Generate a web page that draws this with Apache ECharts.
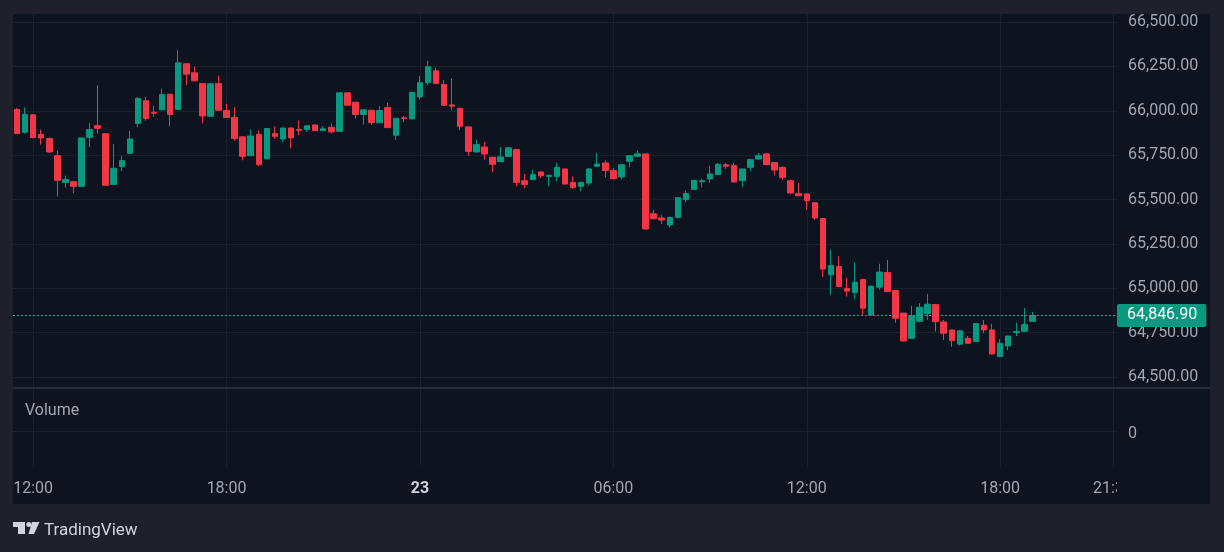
<!DOCTYPE html>
<html lang="en">
<head>
  <meta charset="UTF-8">
  <title>BTC 15m</title>
  <script src="https://cdn.jsdelivr.net/npm/echarts@6.0.0/dist/echarts.min.js"></script>
  <style>
    html, body {
      margin: 0;
      padding: 0;
      background: #1e212b;
    }

    #main {
      width: 1224px;
      height: 552px;
    }
  </style>
</head>
<body>
  <div id="main"></div>

  <script type="text/javascript">
    // 15 minute candles, 22nd 11:30 -> 23rd 19:00
    var opens = [
      66007, 65879, 65977, 65866, 65843, 65747, 65596, 65600, 65574, 65850,
      65916, 65871, 65585, 65685, 65760, 65928, 66056, 65991, 66005, 66093,
      66007, 66265, 66214, 66153, 65969, 66153, 66001, 65963, 65853, 65747,
      65867, 65729, 65871, 65841, 65903, 65894, 65894, 65920, 65888, 65907,
      65884, 66101, 66048, 65979, 66003, 65932, 66018, 65862, 65960, 65954,
      66078, 66158, 66225, 66148, 66033, 66014, 65909, 65768, 65796, 65738,
      65713, 65743, 65781, 65606, 65612, 65655, 65630, 65630, 65672, 65596,
      65574, 65593, 65687, 65706, 65664, 65627, 65715, 65743, 65757, 65420,
      65396, 65356, 65399, 65499, 65557, 65600, 65616, 65640, 65696, 65692,
      65606, 65681, 65728, 65757, 65708, 65681, 65606, 65533, 65531, 65482,
      65393, 65076, 65122, 64998, 64976, 65049, 64850, 65006, 65089, 64987,
      64860, 64718, 64814, 64856, 64908, 64810, 64765, 64685, 64718, 64699,
      64792, 64765, 64615, 64675, 64750, 64758, 64814
    ];
    var closes = [
      65871, 65980, 65849, 65847, 65768, 65608, 65612, 65574, 65847, 65894,
      65901, 65580, 65676, 65719, 65841, 66069, 65956, 65986, 66091, 65979,
      66270, 66206, 66169, 65971, 66152, 66003, 65962, 65843, 65743, 65858,
      65696, 65900, 65856, 65903, 65847, 65890, 65915, 65888, 65898, 65881,
      66101, 66031, 65979, 66005, 65933, 66001, 65905, 65958, 65956, 66104,
      66158, 66248, 66153, 66031, 66026, 65912, 65771, 65809, 65757, 65698,
      65740, 65791, 65596, 65584, 65640, 65634, 65636, 65681, 65587, 65568,
      65596, 65672, 65700, 65663, 65617, 65696, 65747, 65757, 65334, 65392,
      65384, 65399, 65510, 65534, 65608, 65606, 65644, 65698, 65687, 65599,
      65672, 65725, 65747, 65696, 65666, 65625, 65537, 65521, 65493, 65396,
      65108, 65128, 65010, 64984, 65034, 64888, 65012, 65091, 64981, 64831,
      64703, 64844, 64893, 64910, 64812, 64747, 64705, 64760, 64690, 64801,
      64765, 64630, 64690, 64731, 64756, 64795, 64846.9
    ];
    var lows = [
      65871, 65871, 65845, 65809, 65762, 65517, 65568, 65537, 65572, 65796,
      65871, 65578, 65583, 65659, 65758, 65907, 65945, 65966, 66003, 65912,
      66004, 66144, 66166, 65928, 65967, 66000, 65959, 65832, 65721, 65745,
      65687, 65726, 65841, 65822, 65788, 65862, 65881, 65886, 65886, 65873,
      65882, 66029, 65958, 65922, 65920, 65930, 65903, 65836, 65935, 65952,
      66063, 66144, 66151, 66029, 66003, 65890, 65747, 65766, 65725, 65653,
      65711, 65740, 65574, 65563, 65610, 65621, 65574, 65602, 65585, 65559,
      65546, 65578, 65685, 65625, 65615, 65612, 65681, 65741, 65331, 65389,
      65362, 65343, 65392, 65484, 65555, 65568, 65593, 65638, 65672, 65596,
      65570, 65659, 65726, 65694, 65636, 65612, 65531, 65519, 65442, 65386,
      65063, 64963, 65007, 64953, 64939, 64848, 64848, 64991, 64979, 64806,
      64701, 64716, 64806, 64822, 64756, 64709, 64671, 64677, 64688, 64697,
      64747, 64627, 64612, 64652, 64731, 64755, 64812
    ];
    var highs = [
      66016, 66018, 65980, 65894, 65850, 65775, 65634, 65606, 65849, 65932,
      66142, 65873, 65813, 65747, 65888, 66078, 66078, 66029, 66124, 66095,
      66341, 66266, 66248, 66155, 66153, 66199, 66039, 66020, 65854, 65894,
      65890, 65902, 65912, 65905, 65905, 65945, 65916, 65922, 65915, 65928,
      66103, 66103, 66050, 66007, 66004, 66026, 66045, 65959, 65969, 66106,
      66195, 66282, 66242, 66174, 66182, 66016, 65911, 65837, 65826, 65739,
      65796, 65796, 65783, 65644, 65668, 65657, 65638, 65706, 65673, 65630,
      65598, 65677, 65762, 65721, 65678, 65698, 65749, 65775, 65759, 65442,
      65414, 65405, 65512, 65551, 65610, 65616, 65691, 65706, 65706, 65706,
      65673, 65726, 65762, 65762, 65709, 65687, 65612, 65593, 65533, 65484,
      65395, 65217, 65179, 65060, 65147, 65055, 65014, 65138, 65160, 64989,
      64861, 64901, 64916, 64968, 64910, 64822, 64767, 64762, 64731, 64803,
      64822, 64799, 64713, 64733, 64806, 64888, 64867
    ];

    // time axis: 15 min slots from 11:30, running past the last candle to 21:30
    var slotCount = 137;
    var tickIndex = [2, 26, 50, 74, 98, 122, 136];
    var tickText = ['12:00', '18:00', '23', '06:00', '12:00', '18:00', '21:30'];

    var priceTicks = { min: 64500, max: 66500, step: 250 };
    var lastPrice = closes[closes.length - 1];

    var upColor = '#089981';
    var downColor = '#f23645';
    var gridColor = '#1b202d';
    var textColor = '#a3a6af';
    var panelColor = '#0e1320';
    var font = 'Roboto, "Noto Sans", sans-serif';

    var slots = [];
    for (var s = 0; s < slotCount; s++) {
      var m = 11 * 60 + 30 + s * 15;
      var hh = Math.floor(m / 60) % 24;
      var mm = m % 60;
      slots.push((s >= 50 ? 'd23 ' : 'd22 ') + (hh < 10 ? '0' : '') + hh + ':' + (mm < 10 ? '0' : '') + mm);
    }

    var candles = opens.map(function(o, i) {
      return [o, closes[i], lows[i], highs[i]];
    });

    function fmtPrice(v) {
      return v.toLocaleString('en-US', { minimumFractionDigits: 2, maximumFractionDigits: 2 });
    }

    var chart = echarts.init(document.getElementById('main'));

    var option = {
      backgroundColor: '#1e212b',
      animation: false,
      textStyle: { fontFamily: font },
      grid: [
        // price pane
        { left: 13, right: 107, top: 22, height: 355 },
        // volume pane
        { left: 13, right: 107, top: 395, height: 72 },
        // full height, carries the time axis and the vertical lines
        { left: 13, right: 107, top: 14, bottom: 85 }
      ],
      xAxis: [
        { gridIndex: 0, type: 'category', data: slots, show: false },
        { gridIndex: 1, type: 'category', data: slots, show: false },
        {
          gridIndex: 2,
          type: 'category',
          data: slots,
          axisLine: { show: false },
          splitLine: { show: false },
          axisTick: {
            show: true,
            inside: true,
            alignWithLabel: true,
            length: 453,
            interval: function(idx) { return tickIndex.indexOf(idx) >= 0; },
            lineStyle: { color: gridColor, width: 1 }
          },
          axisLabel: {
            interval: function(idx) { return tickIndex.indexOf(idx) >= 0; },
            margin: 14,
            fontSize: 16,
            color: textColor,
            formatter: function(v, idx) {
              var t = tickText[tickIndex.indexOf(idx)];
              return t === '23' ? '{day|23}' : t;
            },
            rich: {
              day: { fontSize: 16, fontWeight: 'bold', color: '#d1d4dc' }
            }
          }
        }
      ],
      yAxis: [
        {
          gridIndex: 0,
          type: 'value',
          position: 'right',
          min: priceTicks.min,
          max: priceTicks.max,
          interval: priceTicks.step,
          axisLine: { show: false },
          axisTick: { show: false },
          splitLine: { lineStyle: { color: gridColor, width: 1 } },
          axisLabel: {
            margin: 11,
            fontSize: 16,
            color: textColor,
            formatter: fmtPrice
          }
        },
        {
          gridIndex: 1,
          type: 'value',
          position: 'right',
          min: -1,
          max: 1,
          interval: 1,
          axisLine: { show: false },
          axisTick: { show: false },
          splitLine: { lineStyle: { color: ['transparent', gridColor, 'transparent'] } },
          axisLabel: {
            margin: 11,
            fontSize: 16,
            color: textColor,
            formatter: function(v) { return v === 0 ? '{z|0}' : ''; },
            rich: {
              z: { fontSize: 16, color: textColor, padding: [5, 0, 0, 0] }
            }
          }
        },
        { gridIndex: 2, type: 'value', min: 0, max: 1, show: false }
      ],
      series: [
        {
          name: 'Price',
          type: 'candlestick',
          xAxisIndex: 0,
          yAxisIndex: 0,
          barWidth: 6,
          data: candles,
          itemStyle: {
            color: upColor,
            color0: downColor,
            borderColor: upColor,
            borderColor0: downColor,
            borderWidth: 1
          },
          markLine: {
            silent: true,
            symbol: ['none', 'none'],
            lineStyle: { color: '#12b394', type: [2, 2], width: 1 },
            label: {
              position: 'end',
              distance: 0,
              formatter: function() { return fmtPrice(lastPrice); },
              backgroundColor: upColor,
              color: '#ffffff',
              fontSize: 16,
              lineHeight: 16,
              padding: [4, 9, 3, 10],
              borderRadius: 2
            },
            data: [{ yAxis: lastPrice }]
          }
        }
      ],
      graphic: [
        {
          type: 'rect',
          z: -100,
          shape: { x: 13, y: 14, width: 1197, height: 490 },
          style: { fill: panelColor }
        },
        {
          // pane separator
          type: 'rect',
          z: 50,
          shape: { x: 13, y: 387, width: 1197, height: 2 },
          style: { fill: '#2a2e39' }
        },
        {
          // time labels are cut off under the price scale
          type: 'rect',
          z: 50,
          shape: { x: 1117, y: 469, width: 93, height: 35 },
          style: { fill: panelColor }
        },
        {
          type: 'text',
          z: 60,
          style: {
            x: 25, y: 411, text: 'Volume',
            fill: textColor, font: '16px ' + font,
            verticalAlign: 'middle'
          }
        },
        // TradingView mark
        {
          type: 'group',
          z: 60,
          children: [
            { type: 'rect', shape: { x: 13, y: 522, width: 12, height: 5 }, style: { fill: '#d1d4dc' } },
            { type: 'rect', shape: { x: 18, y: 522, width: 7, height: 12 }, style: { fill: '#d1d4dc' } },
            { type: 'circle', shape: { cx: 28.8, cy: 524.6, r: 2.5 }, style: { fill: '#d1d4dc' } },
            { type: 'polygon', shape: { points: [[32, 522], [39.5, 522], [34, 534], [28.5, 534]] }, style: { fill: '#d1d4dc' } },
            {
              type: 'text',
              style: {
                x: 44, y: 531, text: 'TradingView',
                fill: '#d1d4dc', font: '17px ' + font,
                verticalAlign: 'middle'
              }
            }
          ]
        }
      ]
    };

    chart.setOption(option);
  </script>
</body>
</html>
